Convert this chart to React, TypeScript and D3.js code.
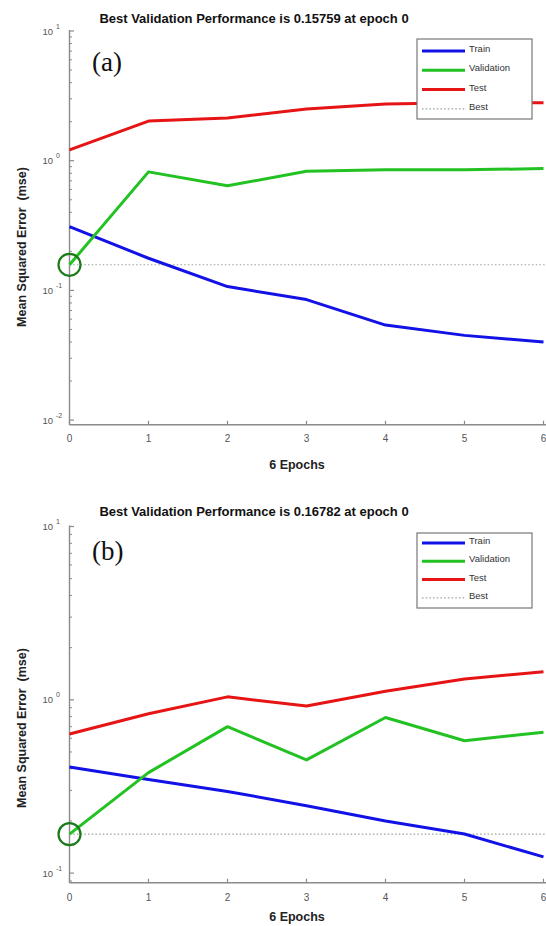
import React, { useRef, useEffect } from "react";
import * as d3 from "d3";

// epochs on the x axis
const epochs = [0, 1, 2, 3, 4, 5, 6];
const xTickLabels = ["0", "1", "2", "3", "4", "5", "6"];

// panel (a)
const trainA = [0.31, 0.177, 0.107, 0.085, 0.054, 0.045, 0.04];
const validationA = [0.15759, 0.82, 0.64, 0.83, 0.85, 0.85, 0.87];
const testA = [1.21, 2.02, 2.13, 2.5, 2.74, 2.8, 2.8];
const bestA = 0.15759;

// panel (b)
const trainB = [0.41, 0.347, 0.296, 0.245, 0.2, 0.168, 0.124];
const validationB = [0.16782, 0.38, 0.7, 0.45, 0.79, 0.58, 0.65];
const testB = [0.635, 0.83, 1.04, 0.92, 1.12, 1.32, 1.45];
const bestB = 0.16782;

const legendLabels = ["Train", "Validation", "Test", "Best"];
const seriesColors = ["#1212e6", "#22c222", "#e61414"];
const bestColor = "#95a595";
const circleColor = "#1c7a1c";
const axisColor = "#8a8a8a";
const sans = "'Liberation Sans', Arial, Helvetica, sans-serif";

const panels = [
  {
    tag: "(a)",
    title: "Best Validation Performance is 0.15759 at epoch 0",
    train: trainA,
    validation: validationA,
    test: testA,
    best: bestA,
    top: 31,
    decade: 129.7,
    yMin: 0.0092,
    titleY: 22.5,
    tagY: 71,
    legendTop: 39,
    legendHeight: 80,
    legendFirst: 12,
    legendStep: 19.3,
    xLabelY: 442,
    xTitleY: 469,
    yLabelY: 247,
  },
  {
    tag: "(b)",
    title: "Best Validation Performance is 0.16782 at epoch 0",
    train: trainB,
    validation: validationB,
    test: testB,
    best: bestB,
    top: 526.5,
    decade: 173.3,
    yMin: 0.088,
    titleY: 515.5,
    tagY: 560,
    legendTop: 533,
    legendHeight: 75,
    legendFirst: 10,
    legendStep: 18.3,
    xLabelY: 901,
    xTitleY: 921,
    yLabelY: 728,
  },
];

const App = () => {
  const svgRef = useRef(null);

  useEffect(() => {
    const svg = d3.select(svgRef.current);
    svg.selectAll("*").remove();

    const x = d3.scaleLinear().domain([0, 6]).range([69.5, 543.5]);

    panels.forEach((p) => {
      const bottom = p.top + p.decade * Math.log10(10 / p.yMin);
      const y = d3.scaleLog().domain([p.yMin, 10]).range([bottom, p.top]);
      const g = svg.append("g");

      // title
      g.append("text")
        .attr("x", 254)
        .attr("y", p.titleY)
        .attr("text-anchor", "middle")
        .style("font-family", sans)
        .style("font-size", "13px")
        .style("font-weight", "bold")
        .style("fill", "#111")
        .text(p.title);

      // axes lines
      g.append("line")
        .attr("x1", x(0)).attr("x2", x(0))
        .attr("y1", p.top - 1).attr("y2", bottom)
        .style("stroke", axisColor).style("stroke-width", 1.4);
      g.append("line")
        .attr("x1", x(0)).attr("x2", 546)
        .attr("y1", bottom).attr("y2", bottom)
        .style("stroke", axisColor).style("stroke-width", 1.4);

      // y ticks (major + minor, log)
      const majors = [0.01, 0.1, 1, 10].filter((v) => v >= p.yMin);
      const minors = [];
      [0.001, 0.01, 0.1, 1].forEach((base) => {
        for (let m = 2; m <= 9; m++) {
          const v = base * m;
          if (v >= p.yMin && v < 10) minors.push(v);
        }
      });
      minors.forEach((v) => {
        g.append("line")
          .attr("x1", x(0)).attr("x2", x(0) + 2.5)
          .attr("y1", y(v)).attr("y2", y(v))
          .style("stroke", axisColor).style("stroke-width", 1);
      });
      majors.forEach((v) => {
        g.append("line")
          .attr("x1", x(0)).attr("x2", x(0) + 4.5)
          .attr("y1", y(v)).attr("y2", y(v))
          .style("stroke", axisColor).style("stroke-width", 1.2);
        g.append("text")
          .attr("x", 53)
          .attr("y", y(v) + 3.5)
          .attr("text-anchor", "end")
          .style("font-family", sans)
          .style("font-size", "9.5px")
          .style("fill", "#555")
          .text("10");
        g.append("text")
          .attr("x", 56)
          .attr("y", y(v) - 2.5)
          .style("font-family", sans)
          .style("font-size", "7px")
          .style("fill", "#555")
          .text(String(Math.round(Math.log10(v))));
      });

      // x ticks
      epochs.forEach((e, i) => {
        g.append("line")
          .attr("x1", x(e)).attr("x2", x(e))
          .attr("y1", bottom).attr("y2", bottom - 4)
          .style("stroke", axisColor).style("stroke-width", 1.2);
        g.append("text")
          .attr("x", x(e))
          .attr("y", p.xLabelY)
          .attr("text-anchor", "middle")
          .style("font-family", sans)
          .style("font-size", "10px")
          .style("fill", "#555")
          .text(xTickLabels[i]);
      });

      g.append("text")
        .attr("x", 297)
        .attr("y", p.xTitleY)
        .attr("text-anchor", "middle")
        .style("font-family", sans)
        .style("font-size", "12.5px")
        .style("font-weight", "bold")
        .style("fill", "#222")
        .text("6 Epochs");

      g.append("text")
        .attr("transform", `translate(26,${p.yLabelY}) rotate(-90)`)
        .attr("text-anchor", "middle")
        .style("font-family", sans)
        .style("font-size", "12.5px")
        .style("font-weight", "bold")
        .style("fill", "#222")
        .style("white-space", "pre")
        .text("Mean Squared Error  (mse)");

      // best dotted line
      g.append("line")
        .attr("x1", x(0)).attr("x2", 546)
        .attr("y1", y(p.best)).attr("y2", y(p.best))
        .style("stroke", bestColor)
        .style("stroke-width", 1.1)
        .style("stroke-dasharray", "1.5,2.2");

      const line = d3.line()
        .x((d, i) => x(epochs[i]))
        .y((d) => y(d));

      [p.train, p.validation, p.test].forEach((values, idx) => {
        g.append("path")
          .datum(values)
          .attr("d", line)
          .style("fill", "none")
          .style("stroke", seriesColors[idx])
          .style("stroke-width", 3)
          .style("stroke-linejoin", "round");
      });

      // best marker
      g.append("circle")
        .attr("cx", x(0))
        .attr("cy", y(p.best))
        .attr("r", 11)
        .style("fill", "none")
        .style("stroke", circleColor)
        .style("stroke-width", 2.2);

      // panel tag
      g.append("text")
        .attr("x", 92)
        .attr("y", p.tagY)
        .style("font-family", "'Liberation Serif', 'Times New Roman', serif")
        .style("font-size", "27px")
        .style("fill", "#111")
        .text(p.tag);

      // legend
      const legend = g.append("g");
      legend.append("rect")
        .attr("x", 417)
        .attr("y", p.legendTop)
        .attr("width", 115)
        .attr("height", p.legendHeight)
        .style("fill", "white")
        .style("stroke", "#777")
        .style("stroke-width", 1.2);

      legendLabels.forEach((label, i) => {
        const ly = p.legendTop + p.legendFirst + i * p.legendStep;
        const item = legend.append("line")
          .attr("x1", 422).attr("x2", 465)
          .attr("y1", ly).attr("y2", ly);
        if (i < 3) {
          item.style("stroke", seriesColors[i]).style("stroke-width", 3);
        } else {
          item.style("stroke", bestColor)
            .style("stroke-width", 1.1)
            .style("stroke-dasharray", "1.5,2.2");
        }
        legend.append("text")
          .attr("x", 469)
          .attr("y", ly + 1)
          .style("font-family", sans)
          .style("font-size", "9.5px")
          .style("fill", "#333")
          .text(label);
      });
    });
  }, []);

  return (
    <svg
      ref={svgRef}
      width={546}
      height={926}
      style={{ position: "absolute", left: 0, top: 0, background: "white" }}
    />
  );
};

export default App;
